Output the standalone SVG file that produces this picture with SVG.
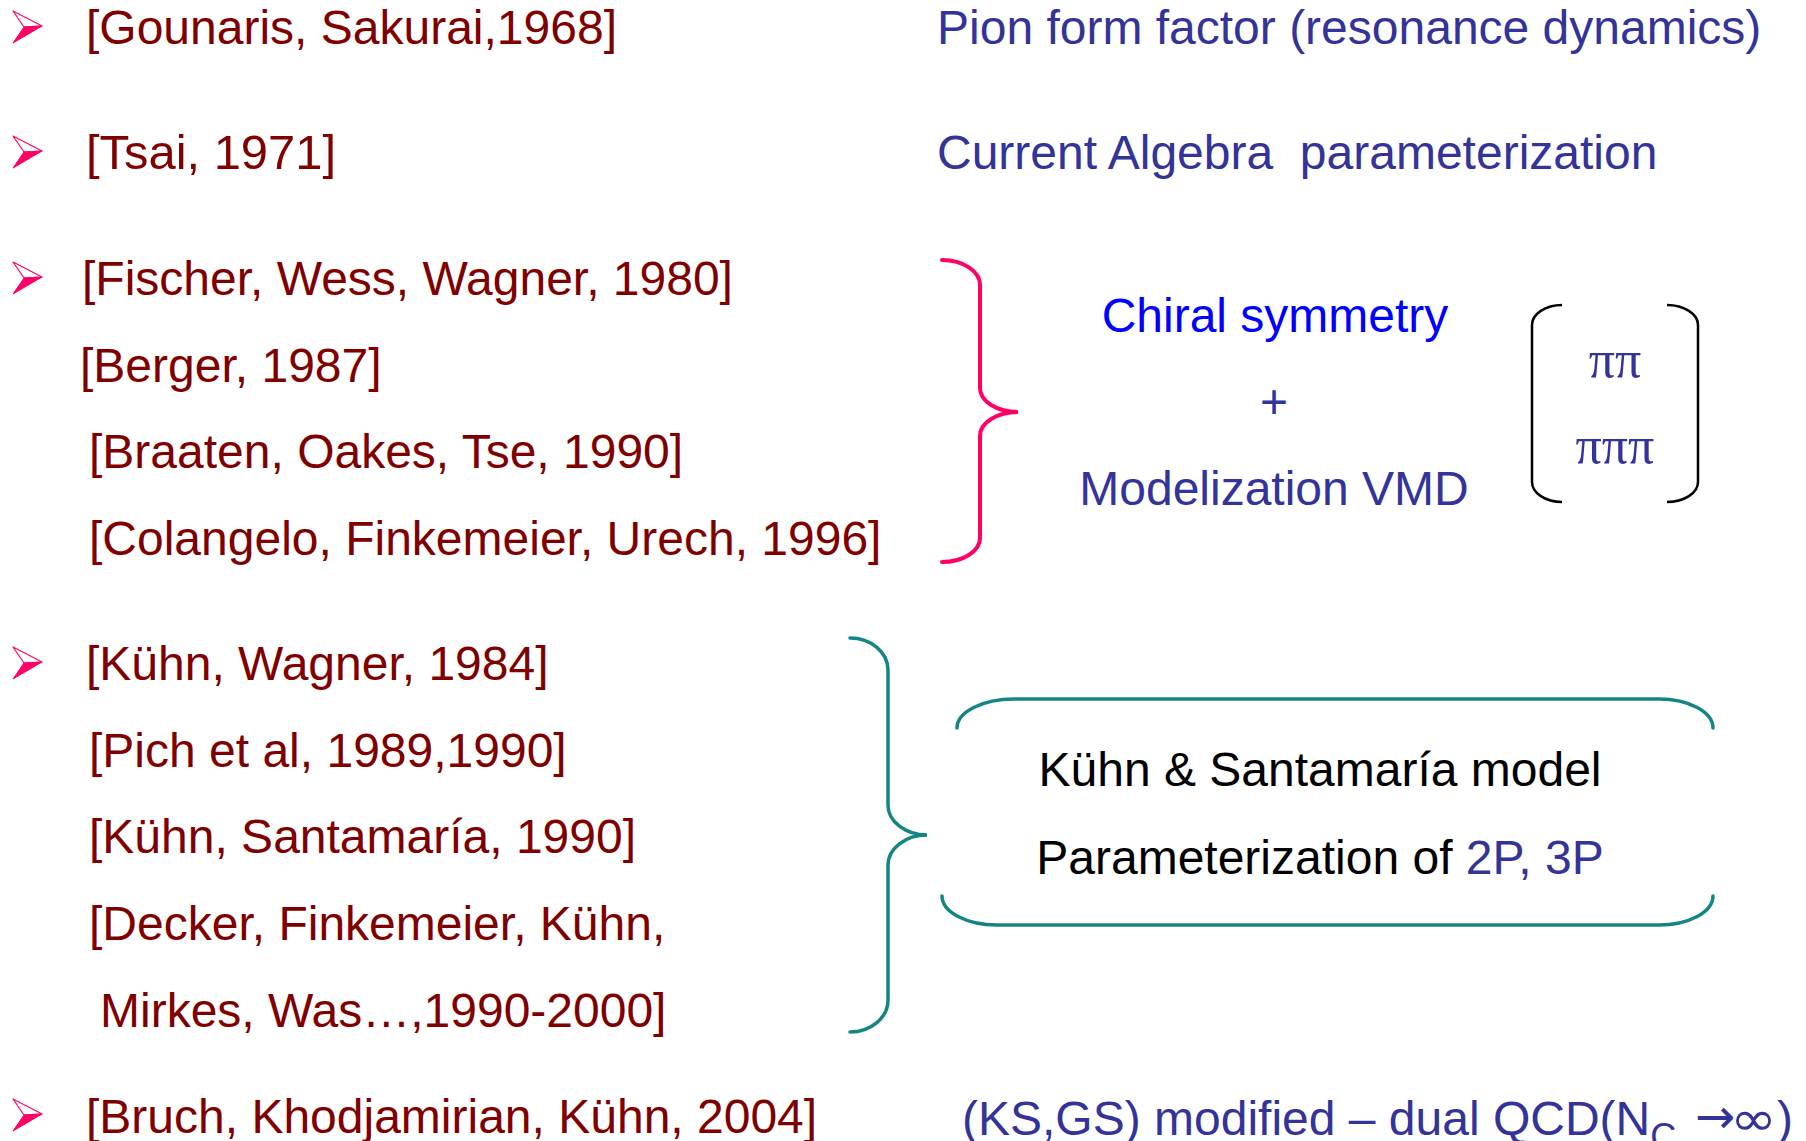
<svg xmlns="http://www.w3.org/2000/svg" xmlns:xlink="http://www.w3.org/1999/xlink" width="1806" height="1141" viewBox="0 0 1806 1141">
<style>
  text { font-family: "Liberation Sans", Arial, sans-serif; font-size: 48px; }
  .ref { fill: #800000; }
  .blue { fill: #333399; }
  .chiral { fill: #0000ff; }
  .blk { fill: #000000; }
  .pi { font-family: "Liberation Serif", "Times New Roman", serif; font-size: 52px; fill: #333399; }
  .sym { font-family: "DejaVu Sans", sans-serif; }
  .pink { fill: none; stroke: #ff0066; stroke-width: 4; stroke-linecap: round; }
  .teal { fill: none; stroke: #138585; stroke-width: 3.5; stroke-linecap: round; }
  .paren { fill: none; stroke: #000000; stroke-width: 2.5; }
</style>
<defs>
  <g id="bullet">
    <polygon points="13,0 42,15 24,16" fill="#ffffff" stroke="#ff0066" stroke-width="1.2" stroke-linejoin="round"/>
    <polygon points="24,16 42,15 13,32" fill="#ff0066" stroke="#ff0066" stroke-width="1" stroke-linejoin="round"/>
  </g>
</defs>
<rect width="1806" height="1141" fill="#ffffff"/>

<g id="bullets">
  <use xlink:href="#bullet" href="#bullet" x="0" y="11"/>
  <use xlink:href="#bullet" href="#bullet" x="0" y="136"/>
  <use xlink:href="#bullet" href="#bullet" x="0" y="262"/>
  <use xlink:href="#bullet" href="#bullet" x="0" y="647"/>
  <use xlink:href="#bullet" href="#bullet" x="0" y="1099"/>
</g>

<g id="ref-gounaris"><text class="ref" x="86" y="44">[Gounaris, Sakurai,1968]</text></g>
<g id="pion-form-factor"><text class="blue" x="937" y="44">Pion form factor (resonance dynamics)</text></g>

<g id="ref-tsai"><text class="ref" x="86" y="169" textLength="250" lengthAdjust="spacingAndGlyphs">[Tsai, 1971]</text></g>
<g id="current-algebra"><text class="blue" x="937" y="169" xml:space="preserve">Current Algebra  parameterization</text></g>

<g id="refs-chiral">
  <text class="ref" x="82" y="295">[Fischer, Wess, Wagner, 1980]</text>
  <text class="ref" x="80" y="382">[Berger, 1987]</text>
  <text class="ref" x="89" y="468">[Braaten, Oakes, Tse, 1990]</text>
  <text class="ref" x="89" y="555">[Colangelo, Finkemeier, Urech, 1996]</text>
</g>

<g id="chiral-vmd">
  <text class="chiral" x="1275" y="332" text-anchor="middle">Chiral symmetry</text>
  <text class="blue" x="1274" y="418" text-anchor="middle">+</text>
  <text class="blue" x="1274" y="505" text-anchor="middle">Modelization VMD</text>
</g>

<g id="pion-states">
  <path class="paren" d="M1562 305 A30 20 0 0 0 1532 325 L1532 482 A30 20 0 0 0 1562 502"/>
  <path class="paren" d="M1667 305 A31 20 0 0 1 1698 325 L1698 482 A31 20 0 0 1 1667 502"/>
  <text class="pi" x="1615" y="377" text-anchor="middle">ππ</text>
  <text class="pi" x="1615" y="463" text-anchor="middle">πππ</text>
</g>

<g id="refs-ks">
  <text class="ref" x="86" y="680">[Kühn, Wagner, 1984]</text>
  <text class="ref" x="89" y="767">[Pich et al, 1989,1990]</text>
  <text class="ref" x="89" y="853">[Kühn, Santamaría, 1990]</text>
  <text class="ref" x="89" y="940">[Decker, Finkemeier, Kühn,</text>
  <text class="ref" x="100" y="1027">Mirkes, Was…,1990-2000]</text>
</g>

<g id="ks-model">
  <path class="teal" d="M957 728 A57 29 0 0 1 1014 699 L1659 699 A54 29 0 0 1 1713 728"/>
  <path class="teal" d="M942 896 A55 29 0 0 0 997 925 L1659 925 A54 29 0 0 0 1713 896"/>
  <text class="blk" x="1320" y="786" text-anchor="middle">Kühn &amp; Santamaría model</text>
  <text class="blk" x="1320" y="874" text-anchor="middle">Parameterization of <tspan class="blue">2P, 3P</tspan></text>
</g>

<g id="ref-bruch"><text class="ref" x="86" y="1133">[Bruch, Khodjamirian, Kühn, 2004]</text></g>
<g id="dual-qcd">
  <text class="blue" x="962" y="1135">(KS,GS) modified – dual QCD(N<tspan font-size="36" dy="14">C</tspan></text>
  <text class="blue sym" x="1695" y="1133" font-size="40">→</text>
  <text class="blue sym" x="1730" y="1135" textLength="47" lengthAdjust="spacingAndGlyphs">∞</text>
  <text class="blue" x="1777" y="1135">)</text>
</g>

<g id="connectors">
  <path class="pink" d="M942 260 A38 25 0 0 1 980 285 L980 388 A38 24 0 0 0 1018 412 A38 24 0 0 0 980 436 L980 538 A38 24 0 0 1 942 562"/>
  <path class="teal" d="M850 638 A38 32 0 0 1 888 670 L888 805 A39 30 0 0 0 927 835 A39 30 0 0 0 888 865 L888 1000 A38 32 0 0 1 850 1032"/>
</g>
</svg>
